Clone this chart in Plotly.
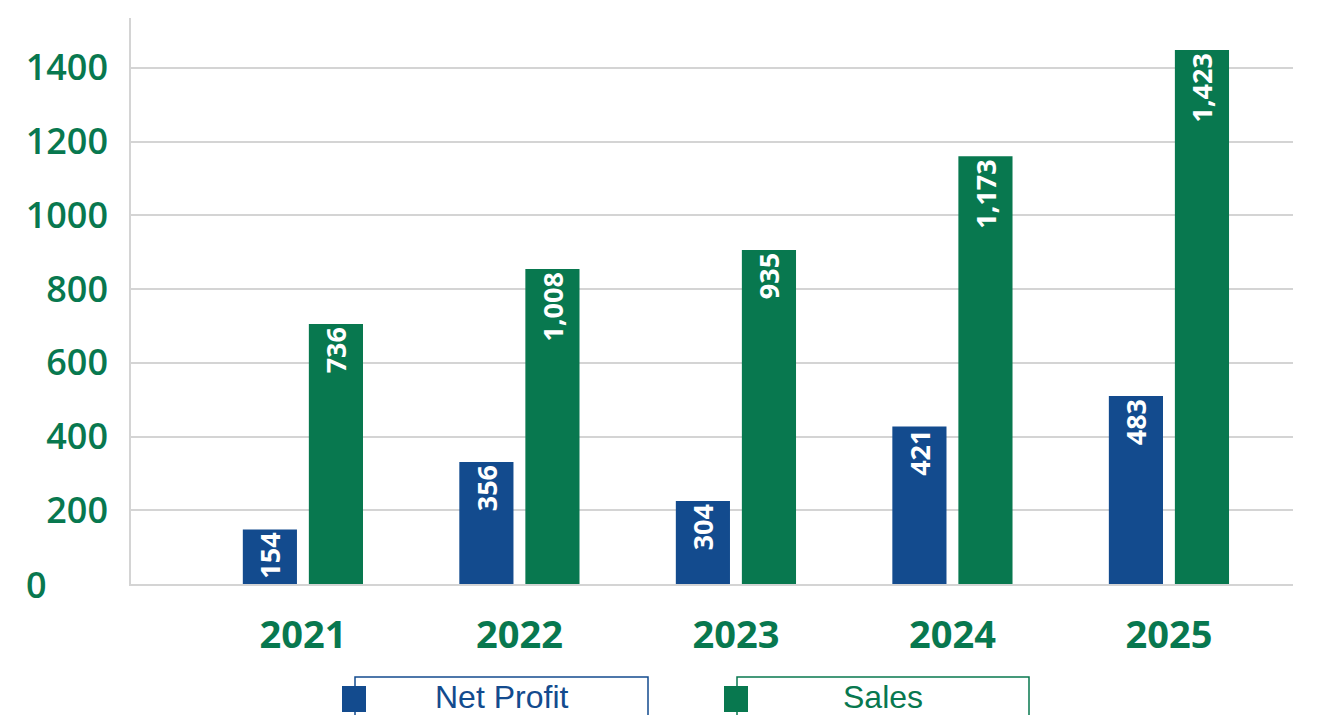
import plotly.graph_objects as go

years = ["2021", "2022", "2023", "2024", "2025"]
net_profit = [148, 331, 225, 427, 510]
sales = [705, 854, 906, 1160, 1448]
net_profit_labels = ["154", "356", "304", "421", "483"]
sales_labels = ["736", "1,008", "935", "1,173", "1,423"]
y_ticks = [200, 400, 600, 800, 1000, 1200, 1400]

BLUE = "#134B8E"
GREEN = "#08784F"
GRID = "#d4d4d4"
FONT = "Open Sans, Noto Sans, sans-serif"
NARROW = "Liberation Sans Narrow, Arial Narrow, Liberation Sans, sans-serif"

fig = go.Figure()
fig.add_trace(go.Bar(
    x=years, y=net_profit, name="Net Profit", marker=dict(color=BLUE, line=dict(width=0)),
    text=net_profit_labels, textposition="inside", insidetextanchor="end", textangle=-90,
    textfont=dict(family=FONT, size=27, color="white", weight="bold"), showlegend=False,
))
fig.add_trace(go.Bar(
    x=years, y=sales, name="Sales", marker=dict(color=GREEN, line=dict(width=0)),
    text=sales_labels, textposition="inside", insidetextanchor="end", textangle=-90,
    textfont=dict(family=FONT, size=27, color="white", weight="bold"), showlegend=False,
))

L, R, T, B = 131, 28, 18, 131
W, H = 1321, 715
PW, PH = W - L - R, H - T - B


def px(xp):
    return (xp - L) / PW


def py(yp):
    return (H - B - yp) / PH


shapes = []
annotations = []
legend_items = [("Net Profit", BLUE, 355, 648, 342), ("Sales", GREEN, 737, 1029, 724)]
for label, col, bx0, bx1, mx0 in legend_items:
    shapes.append(dict(type="rect", xref="paper", yref="paper", x0=px(bx0), x1=px(bx1),
                       y0=py(677), y1=py(730), line=dict(color=col, width=1.5), fillcolor="rgba(0,0,0,0)",
                       layer="above"))
    shapes.append(dict(type="rect", xref="paper", yref="paper", x0=px(mx0), x1=px(mx0 + 24),
                       y0=py(686), y1=py(712), line=dict(width=0), fillcolor=col, layer="above"))
    annotations.append(dict(text=label, xref="paper", yref="paper", x=px((bx0 + bx1) / 2), y=py(697),
                            showarrow=False, xanchor="center", yanchor="middle",
                            font=dict(family=NARROW, size=32, color=col)))

annotations.append(dict(text="0", xref="paper", yref="y", x=px(36), y=0, showarrow=False,
                        xanchor="center", yanchor="middle",
                        font=dict(family=FONT, size=36, color=GREEN, weight=600)))

fig.update_layout(
    width=W, height=H, autosize=False,
    margin=dict(l=L, r=R, t=T, b=B, pad=0),
    paper_bgcolor="white", plot_bgcolor="white",
    barmode="group", bargap=0.39, bargroupgap=0.18,
    uniformtext=dict(minsize=27, mode="show"),
    shapes=shapes, annotations=annotations,
    xaxis=dict(type="category", range=[-0.794, 4.573], showgrid=False, showline=True,
               linecolor=GRID, linewidth=1.5, ticks="", ticklabelstandoff=17,
               tickfont=dict(family=FONT, size=38, color=GREEN, weight="bold")),
    yaxis=dict(range=[0, 1535], tickvals=y_ticks, showgrid=True, gridcolor=GRID, gridwidth=1.5,
               showline=True, linecolor=GRID, linewidth=1.5, zeroline=False, ticks="",
               ticklabelstandoff=14,
               tickfont=dict(family=FONT, size=36, color=GREEN, weight=600)),
)

fig.write_html("out.html", config={"displayModeBar": False},
               post_script="document.body.style.margin='0';")
